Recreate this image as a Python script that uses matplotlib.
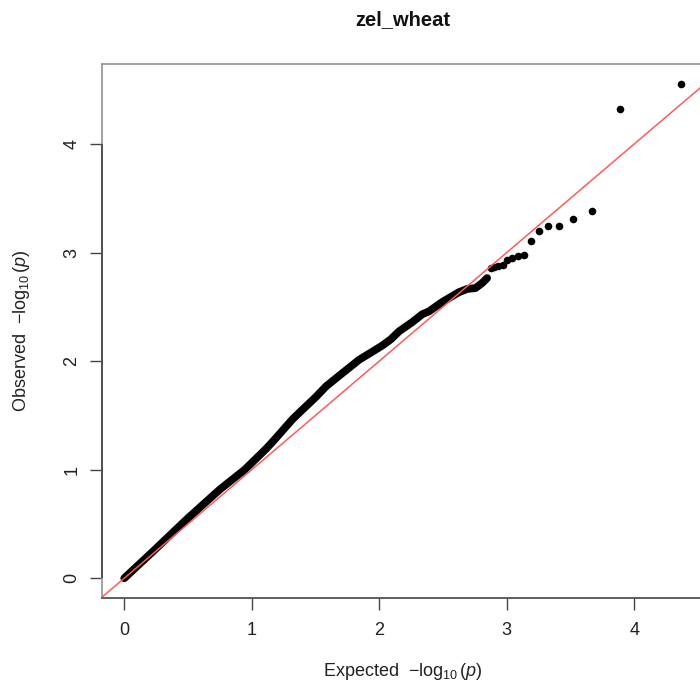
import numpy as np
import matplotlib
matplotlib.use("Agg")
import matplotlib.pyplot as plt

plt.rcParams['font.family'] = ['Liberation Sans', 'DejaVu Sans']
plt.rcParams['mathtext.fontset'] = 'custom'
plt.rcParams['mathtext.rm'] = 'Liberation Sans'
plt.rcParams['mathtext.it'] = 'Liberation Sans:italic'
plt.rcParams['mathtext.bf'] = 'Liberation Sans:bold'

# ---- data ----
title = "zel_wheat"
n_tests = 11587
# observed -log10(p) for the 16 most significant tests (rank 1..16)
top_observed = [4.555, 4.325, 3.387, 3.313, 3.249, 3.249, 3.200, 3.105,
                2.977, 2.964, 2.949, 2.933, 2.881, 2.878, 2.871, 2.862]
# dense bulk of the remaining tests (expected, observed)
bulk_expected = [2.846, 2.807, 2.755, 2.69, 2.625, 2.56, 2.495, 2.44, 2.39,
                 2.339, 2.26, 2.156, 2.09, 2.026, 1.93, 1.844, 1.713, 1.583,
                 1.505, 1.40, 1.32, 1.245, 1.17, 1.115, 0.945, 0.75, 0.49,
                 0.229, 0.0]
bulk_observed = [2.765, 2.719, 2.673, 2.665, 2.635, 2.59, 2.545, 2.50, 2.458,
                 2.433, 2.36, 2.275, 2.20, 2.145, 2.075, 2.014, 1.891, 1.768,
                 1.672, 1.555, 1.465, 1.365, 1.265, 1.195, 1.0, 0.818, 0.543,
                 0.251, 0.0]
x_ticks = [0, 1, 2, 3, 4]
y_ticks = [0, 1, 2, 3, 4]

# expected -log10(p) from uniform quantiles (ppoints)
ranks = np.arange(1, len(top_observed) + 1)
top_expected = -np.log10((ranks - 0.5) / n_tests)

fig = plt.figure(figsize=(7.0, 6.91), dpi=100)
W, H = 700, 691
left_px, right_px, top_px, bottom_px = 102, 703, 64, 598
ax = fig.add_axes([left_px / W, 1 - bottom_px / H,
                   (right_px - left_px) / W, (bottom_px - top_px) / H])

all_e = np.concatenate([top_expected, bulk_expected])
all_o = np.concatenate([top_observed, bulk_observed])
xr = [all_e.min(), all_e.max()]
yr = [all_o.min(), all_o.max()]
ax.set_xlim(xr[0] - 0.04 * (xr[1] - xr[0]), xr[1] + 0.04 * (xr[1] - xr[0]))
ax.set_ylim(yr[0] - 0.04 * (yr[1] - yr[0]), yr[1] + 0.04 * (yr[1] - yr[0]))

# points
ax.plot(bulk_expected, bulk_observed, color='black', lw=5.6,
        solid_capstyle='round', solid_joinstyle='round', zorder=2)
ax.scatter(top_expected, top_observed, s=30, color='black', lw=0, zorder=2)

# y = x reference
ax.axline((0, 0), slope=1, color='#ff5a5a', lw=1.1, zorder=3)

# frame
for s in ['top', 'left', 'right']:
    ax.spines[s].set_color('#9a9a9a')
    ax.spines[s].set_linewidth(1.3)
ax.spines['bottom'].set_color('#444444')
ax.spines['bottom'].set_linewidth(1.2)
ax.plot([0, 0], [y_ticks[0], y_ticks[-1]], transform=ax.get_yaxis_transform(),
        color='#444444', lw=1.2, clip_on=False, zorder=5, solid_capstyle='butt')

ax.set_xticks(x_ticks)
ax.set_yticks(y_ticks)
ax.set_xticklabels([str(t) for t in x_ticks])
ax.set_yticklabels([str(t) for t in y_ticks], rotation=90, va='center')
ax.tick_params(axis='both', length=8.6, width=1.0, color='#444444',
               labelsize=13, labelcolor='#222222')
ax.tick_params(axis='x', pad=9)
ax.tick_params(axis='y', pad=7)

ax.set_xlabel(r'Expected  $-\log_{10}(p)$', fontsize=13, color='#222222', va='center')
ax.set_ylabel(r'Observed  $-\log_{10}(p)$', fontsize=13, color='#222222', va='center')
ax.xaxis.set_label_coords(0.5, (bottom_px - 672) / (bottom_px - top_px))
ax.yaxis.set_label_coords((22 - left_px) / (right_px - left_px), 0.5)

ax.text(0.5, 1 + (top_px - 20) / (bottom_px - top_px), title, transform=ax.transAxes,
        ha='center', va='center', fontsize=14.5, fontweight='bold', color='#111111')

fig.savefig("out.png", dpi=100)
